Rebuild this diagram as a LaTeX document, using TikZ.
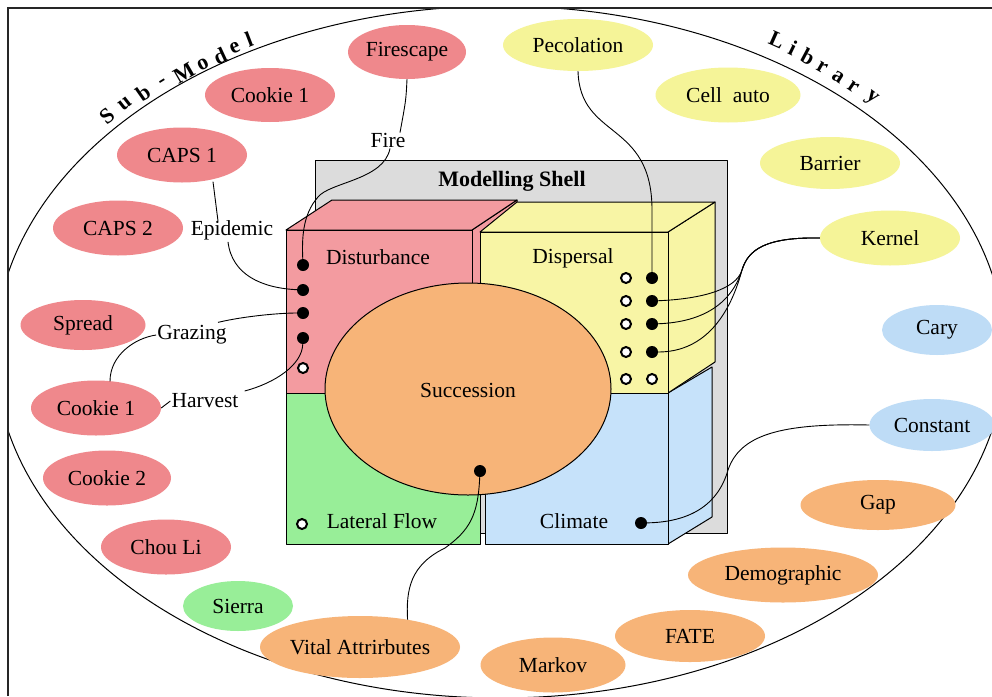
\documentclass[tikz,border=0pt]{standalone}
\usepackage{fontspec}
\setmainfont{Liberation Serif}
\usetikzlibrary{shapes.geometric,calc}

\definecolor{subpink}{RGB}{239,136,140}
\definecolor{boxpink}{RGB}{243,155,160}
\definecolor{libyellow}{RGB}{245,244,152}
\definecolor{boxyellow}{RGB}{248,245,165}
\definecolor{libgreen}{RGB}{152,238,152}
\definecolor{libblue}{RGB}{190,220,246}
\definecolor{boxblue}{RGB}{198,226,250}
\definecolor{liborange}{RGB}{247,180,120}
\definecolor{shellgrey}{RGB}{220,220,220}

\begin{document}
\begin{tikzpicture}[x=1pt,y=-1pt,
  lib/.style={ellipse, inner sep=0pt, font=\fontsize{21.5}{24}\selectfont},
  pk/.style={lib, fill=subpink},
  yl/.style={lib, fill=libyellow},
  gr/.style={lib, fill=libgreen},
  bl/.style={lib, fill=libblue},
  og/.style={lib, fill=liborange},
  lbl/.style={inner sep=1pt, font=\fontsize{21.5}{24}\selectfont},
  boxtext/.style={inner sep=0pt, font=\fontsize{21.5}{24}\selectfont},
  face/.style={draw=black, line width=1pt, line join=round},
  wire/.style={draw=black, line width=0.9pt},
  fdot/.style={circle, fill=black, inner sep=0pt, minimum size=12pt},
  odot/.style={circle, draw=black, fill=white, line width=2pt, inner sep=0pt, minimum size=10pt},
  arcletter/.style={inner sep=0pt, font=\bfseries\fontsize{22}{24}\selectfont}
]
\useasboundingbox (0,0) rectangle (992,696);
\fill[white] (0,0) rectangle (992,696);

% library boundary
\begin{scope}
  \clip (8,8) rectangle (992,696);
  \draw[line width=1pt] (500,352) ellipse [x radius=505, y radius=346];
\end{scope}

% frame
\draw[line width=2pt, draw=black!85] (8,696) -- (8,8) -- (992,8);

% arc lettering
\foreach \ch/\px/\py/\r in {S/107/116/40, u/125/104/38, b/143/93/35, -/163/83/32,
  M/184/73/30, o/203/64/27, d/220/56/25, e/235/48/23, l/249/39/21}
  \node[arcletter, rotate=\r] at (\px,\py) {\ch};
\foreach \ch/\px/\py/\r in {L/777/40/-24, i/793/48/-26, b/808/57/-28, r/822/67/-30,
  a/838/77/-32, r/853/87/-34, y/871/99/-37}
  \node[arcletter, rotate=\r] at (\px,\py) {\ch};

% modelling shell
\draw[face, fill=shellgrey] (315,160) rectangle (727,533);
\node[font=\bfseries\fontsize{22}{24}\selectfont] (shell) at (512,181) {Modelling Shell};

% disturbance block
\filldraw[face, fill=boxpink] (472,230) -- (517,200) -- (517,370) -- (472,393) -- cycle;
\filldraw[face, fill=boxpink] (286,230) -- (332,200) -- (517,200) -- (472,230) -- cycle;
\filldraw[face, fill=boxpink] (286,230) rectangle (472,393);

% climate block
\filldraw[face, fill=boxblue] (668,393) -- (712,367) -- (712,517) -- (668,544) -- cycle;
\filldraw[face, fill=boxblue] (485,393) rectangle (668,544);

% dispersal block
\filldraw[face, fill=boxyellow] (668,232) -- (715,202) -- (715,362) -- (668,393) -- cycle;
\filldraw[face, fill=boxyellow] (480,232) -- (517,202) -- (715,202) -- (668,232) -- cycle;
\filldraw[face, fill=boxyellow] (480,232) rectangle (668,393);

% lateral flow block
\filldraw[face, fill=libgreen] (286,393) rectangle (480,544);

% succession core
\filldraw[face, fill=liborange] (468,389) ellipse [x radius=143, y radius=106];

\node[boxtext] (dist) at (378,257) {Disturbance};
\node[boxtext] (disp) at (573,258) {Dispersal};
\node[boxtext] (succ) at (468,390) {Succession};
\node[boxtext] (latf) at (382,521) {Lateral Flow};
\node[boxtext] (clim) at (574,521) {Climate};

% ports
\node[fdot] (d1) at (303,265) {};
\node[fdot] (d2) at (303,290) {};
\node[fdot] (d3) at (303,313) {};
\node[fdot] (d4) at (303,338) {};
\node[odot] (d5) at (303,368) {};
\foreach \i/\py in {1/278, 2/301, 3/324, 4/352, 5/379}
  \node[odot] (p\i o) at (626,\py) {};
\foreach \i/\py in {1/278, 2/301, 3/324, 4/352}
  \node[fdot] (p\i f) at (652,\py) {};
\node[odot] (p5f) at (652,379) {};
\node[odot] (lf) at (302,524) {};
\node[fdot] (cl) at (641,523) {};
\node[fdot] (su) at (480,471) {};

% sub-model library
\node[pk, minimum width=118pt, minimum height=54pt] (firescape) at (407,52) {Firescape};
\node[pk, minimum width=130pt, minimum height=54pt] (ck1a) at (270,95) {Cookie 1};
\node[pk, minimum width=130pt, minimum height=55pt] (caps1) at (182,155) {CAPS 1};
\node[pk, minimum width=130pt, minimum height=55pt] (caps2) at (118,228) {CAPS 2};
\node[pk, minimum width=125pt, minimum height=50pt] (spread) at (83,325) {Spread};
\node[pk, minimum width=130pt, minimum height=55pt] (ck1b) at (96,408) {Cookie 1};
\node[pk, minimum width=128pt, minimum height=55pt] (ck2) at (107,478) {Cookie 2};
\node[pk, minimum width=130pt, minimum height=55pt] (chou) at (166,547) {Chou Li};
\node[gr, minimum width=110pt, minimum height=50pt] (sierra) at (238,606) {Sierra};
\node[og, minimum width=200pt, minimum height=62pt] (vital) at (360,647) {Vital Attrirbutes};
\node[og, minimum width=145pt, minimum height=55pt] (markov) at (553,665) {Markov};
\node[og, minimum width=150pt, minimum height=52pt] (fate) at (690,636) {FATE};
\node[og, minimum width=190pt, minimum height=55pt] (demo) at (783,575) {Demographic};
\node[og, minimum width=155pt, minimum height=50pt] (gap) at (878,505) {Gap};
\node[bl, minimum width=125pt, minimum height=52pt] (const) at (932,425) {Constant};
\node[bl, minimum width=110pt, minimum height=50pt] (cary) at (937,330) {Cary};
\node[yl, minimum width=140pt, minimum height=55pt] (kernel) at (890,238) {Kernel};
\node[yl, minimum width=140pt, minimum height=52pt] (barrier) at (830,163) {Barrier};
\node[yl, minimum width=145pt, minimum height=55pt] (cell) at (728,95) {Cell\hspace{0.5em}auto};
\node[yl, minimum width=150pt, minimum height=52pt] (pec) at (578,45) {Pecolation};

% process labels
\node[lbl] (fire) at (388,140) {Fire};
\node[lbl] (epi) at (232,230) {Epidemic};
\node[lbl] (graz) at (192,335) {Grazing};
\node[lbl] (harv) at (205,401) {Harvest};

% connectors
\draw[wire] (firescape.south) .. controls (406,100) .. ($(fire.north)+(12,1)$);
\draw[wire] ($(fire.south)+(2,0)$) .. controls (384,180) and (330,182) .. (318,197)
  .. controls (302,215) and (302,240) .. (d1);
\draw[wire] ($(caps1.south)+(31,-1)$) -- ($(epi.north)+(-14,2)$);
\draw[wire] ($(epi.south)+(-4,1)$) .. controls (232,275) and (262,288) .. (d2);
\draw[wire] ($(graz.north)+(26,-2)$) .. controls (245,316) and (280,313) .. (d3);
\draw[wire] ($(ck1b.north)+(14,1)$) .. controls (110,355) and (135,338) .. (graz.west);
\draw[wire] (ck1b.east) -- (harv.west);
\draw[wire] ($(harv.east)+(5,-10)$) .. controls (275,383) and (302,365) .. (d4);
\draw[wire] (pec.south) .. controls (580,140) and (652,120) .. (652,210) -- (p1f);
\draw[wire] (kernel.west) .. controls (765,237) and (748,250) .. (742,270)
  .. controls (736,290) and (700,299) .. (p2f);
\draw[wire] (kernel.west) .. controls (765,237) and (748,250) .. (742,270)
  .. controls (732,302) and (705,322) .. (p3f);
\draw[wire] (kernel.west) .. controls (765,237) and (748,250) .. (742,270)
  .. controls (728,322) and (700,352) .. (p4f);
\draw[wire] (const.west) .. controls (780,423) and (740,435) .. (728,470)
  .. controls (718,505) and (690,522) .. (cl);
\draw[wire] (su) .. controls (478,515) and (470,530) .. (445,548)
  .. controls (410,565) and (406,590) .. (vital.30);
\end{tikzpicture}
\end{document}
